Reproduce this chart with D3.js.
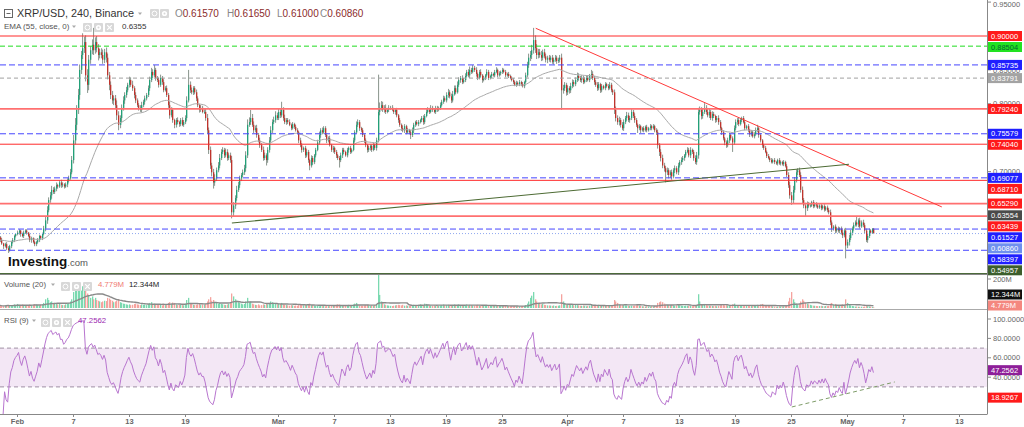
<!DOCTYPE html>
<html>
<head>
<meta charset="utf-8">
<script src="https://cdn.jsdelivr.net/npm/d3@7/dist/d3.min.js"></script>
<style>
html,body{margin:0;padding:0;background:#fff;}
svg{display:block;font-family:"Liberation Sans",Arial,sans-serif;}
</style>
</head>
<body>
<svg id="chart" width="1024" height="427"></svg>
<script>
// ================= DATA =================
const symbolTitle = "XRP/USD, 240, Binance";
const firstBarTime = "2022-01-30T04:00:00Z";
const barHours = 4;
const firstOpen = 0.603;
// 4h closes, one row per day
const closes = [
/*Jan30*/ .599,.594,.590,.593,.587,
/*Jan31*/ .584,.590,.596,.599,.605,.608,
/*Feb01*/ .610,.613,.608,.605,.610,.613,
/*Feb02*/ .610,.605,.599,.602,.596,.593,
/*Feb03*/ .596,.599,.605,.602,.608,.616,
/*Feb04*/ .628,.643,.658,.665,.673,.670,
/*Feb05*/ .675,.680,.678,.684,.680,.681,
/*Feb06*/ .678,.681,.687,.690,.699,.717,
/*Feb07*/ .746,.769,.791,.813,.850,.872,
/*Feb08*/ .882,.891,.842,.828,.865,.879,
/*Feb09*/ .887,.879,.891,.882,.872,.876,
/*Feb10*/ .872,.865,.876,.868,.842,.828,
/*Feb11*/ .813,.805,.808,.798,.783,.769,
/*Feb12*/ .779,.794,.805,.813,.820,.828,
/*Feb13*/ .835,.828,.823,.813,.805,.798,
/*Feb14*/ .794,.791,.798,.803,.808,.813,
/*Feb15*/ .823,.835,.847,.842,.850,.838,
/*Feb16*/ .835,.828,.838,.832,.820,.823,
/*Feb17*/ .813,.798,.783,.791,.776,.769,
/*Feb18*/ .776,.773,.770,.776,.769,.773,
/*Feb19*/ .779,.805,.828,.820,.817,.823,
/*Feb20*/ .817,.808,.798,.791,.794,.788,
/*Feb21*/ .788,.779,.761,.732,.709,.699,
/*Feb22*/ .684,.690,.702,.709,.720,.729,
/*Feb23*/ .732,.724,.729,.720,.724,.717,
/*Feb24*/ .640,.650,.661,.673,.680,.690,
/*Feb25*/ .695,.699,.705,.724,.769,.773,
/*Feb26*/ .779,.769,.761,.764,.754,.746,
/*Feb27*/ .739,.732,.720,.724,.717,.732,
/*Feb28*/ .746,.761,.773,.776,.783,.779,
/*Mar01*/ .788,.783,.791,.779,.773,.776,
/*Mar02*/ .773,.769,.764,.770,.766,.761,
/*Mar03*/ .758,.746,.739,.732,.735,.724,
/*Mar04*/ .729,.717,.709,.720,.714,.724,
/*Mar05*/ .732,.743,.754,.761,.758,.764,
/*Mar06*/ .754,.746,.749,.739,.732,.735,
/*Mar07*/ .729,.724,.720,.717,.724,.732,
/*Mar08*/ .729,.724,.732,.735,.729,.732,
/*Mar09*/ .746,.758,.769,.773,.764,.761,
/*Mar10*/ .754,.746,.739,.732,.735,.738,
/*Mar11*/ .732,.739,.735,.746,.788,.794,
/*Mar12*/ .798,.791,.794,.788,.791,.794,
/*Mar13*/ .794,.791,.788,.791,.783,.776,
/*Mar14*/ .769,.764,.761,.767,.758,.761,
/*Mar15*/ .758,.754,.761,.769,.773,.770,
/*Mar16*/ .773,.776,.779,.773,.782,.788,
/*Mar17*/ .791,.788,.794,.791,.788,.794,
/*Mar18*/ .791,.794,.798,.803,.808,.805,
/*Mar19*/ .813,.817,.811,.805,.814,.823,
/*Mar20*/ .817,.828,.835,.838,.832,.835,
/*Mar21*/ .841,.847,.842,.850,.847,.853,
/*Mar22*/ .850,.844,.838,.847,.842,.835,
/*Mar23*/ .838,.842,.847,.838,.841,.844,
/*Mar24*/ .842,.847,.850,.842,.845,.847,
/*Mar25*/ .850,.847,.842,.844,.841,.838,
/*Mar26*/ .835,.832,.828,.831,.829,.832,
/*Mar27*/ .829,.826,.832,.842,.857,.868,
/*Mar28*/ .872,.879,.894,.882,.872,.876,
/*Mar29*/ .872,.868,.876,.870,.865,.868,
/*Mar30*/ .865,.868,.862,.865,.868,.863,
/*Mar31*/ .865,.868,.820,.823,.828,.817,
/*Apr01*/ .823,.820,.826,.832,.829,.835,
/*Apr02*/ .841,.838,.835,.838,.832,.835,
/*Apr03*/ .838,.835,.841,.844,.838,.832,
/*Apr04*/ .828,.823,.829,.820,.826,.823,
/*Apr05*/ .829,.826,.823,.828,.820,.817,
/*Apr06*/ .791,.779,.773,.776,.769,.764,
/*Apr07*/ .773,.779,.783,.776,.779,.788,
/*Apr08*/ .782,.776,.769,.764,.767,.761,
/*Apr09*/ .764,.761,.766,.761,.764,.767,
/*Apr10*/ .764,.767,.761,.758,.739,.729,
/*Apr11*/ .720,.709,.705,.699,.702,.695,
/*Apr12*/ .699,.693,.702,.705,.699,.709,
/*Apr13*/ .714,.717,.720,.724,.729,.732,
/*Apr14*/ .724,.732,.729,.720,.714,.724,
/*Apr15*/ .788,.791,.782,.788,.794,.788,
/*Apr16*/ .783,.788,.779,.785,.782,.776,
/*Apr17*/ .779,.773,.764,.758,.749,.743,
/*Apr18*/ .739,.746,.754,.749,.743,.764,
/*Apr19*/ .773,.776,.770,.776,.779,.773,
/*Apr20*/ .764,.767,.761,.755,.758,.752,
/*Apr21*/ .755,.761,.764,.754,.746,.739,
/*Apr22*/ .735,.729,.723,.720,.717,.714,
/*Apr23*/ .717,.714,.712,.717,.712,.714,
/*Apr24*/ .711,.714,.708,.695,.680,.665,
/*Apr25*/ .658,.673,.687,.699,.702,.695,
/*Apr26*/ .673,.658,.650,.646,.653,.650,
/*Apr27*/ .650,.655,.649,.652,.650,.647,
/*Apr28*/ .650,.646,.649,.644,.647,.643,
/*Apr29*/ .640,.625,.616,.619,.613,.616,
/*Apr30*/ .613,.616,.610,.606,.613,.591,
/*May01*/ .596,.602,.610,.616,.621,.625,
/*May02*/ .622,.628,.619,.625,.621,.613,
/*May03*/ .599,.605,.613,.610,.6157,.6086
];
// upper wick beyond body, in 0.001 units
const wickUp = [
2,3,1,2,3,
3,2,2,3,2,1,
3,2,1,2,3,2,
2,1,3,2,1,2,
2,3,2,1,2,4,
5,6,4,5,6,4,
3,4,2,3,4,3,
2,3,3,4,5,6,
8,10,7,9,8,6,
22,8,10,9,7,6,
8,25,7,9,6,5,
6,8,5,7,6,5,
5,6,4,5,7,6,
4,5,6,4,5,3,
5,4,6,3,4,3,
3,4,5,3,4,3,
4,5,6,4,7,3,
3,4,5,3,4,3,
4,3,5,4,3,2,
3,4,2,3,4,3,
4,6,22,5,4,3,
3,4,3,2,4,3,
4,5,6,4,5,4,
5,6,4,5,6,4,
4,3,5,4,3,4,
6,5,4,6,5,4,
3,4,5,6,8,7,
12,6,5,4,5,3,
4,3,5,4,3,4,
5,6,4,5,6,4,
5,4,12,4,5,3,
3,4,2,3,2,3,
3,2,4,3,2,3,
4,3,2,4,3,2,
3,4,5,3,4,3,
3,2,3,4,2,3,
2,3,2,3,4,3,
3,2,3,2,3,2,
4,3,5,4,3,2,
3,2,3,2,3,2,
2,3,2,4,55,8,
6,5,4,5,3,4,
3,4,3,2,3,2,
3,2,4,3,2,3,
2,3,4,3,2,3,
3,2,3,4,3,4,
4,3,4,3,2,3,
3,2,4,3,4,3,
4,5,3,4,5,4,
4,5,4,3,4,3,
4,3,4,5,3,4,
3,4,2,3,4,2,
3,2,4,3,2,3,
2,3,4,2,3,2,
3,2,3,2,3,2,
2,3,2,3,2,3,
2,3,2,4,5,6,
6,8,18,7,6,5,
5,6,4,5,4,3,
4,3,4,3,4,3,
3,4,6,5,4,3,
4,3,5,4,3,4,
5,4,3,4,3,4,
3,4,3,6,4,3,
3,4,3,2,3,2,
3,2,3,4,3,2,
4,5,4,5,3,4,
4,3,5,4,3,4,
3,4,3,2,3,2,
2,3,2,3,2,3,
2,3,2,3,4,3,
4,5,4,3,4,3,
3,4,3,4,3,4,
3,4,3,2,3,4,
3,4,2,3,4,5,
6,5,4,5,7,4,
4,5,3,4,3,2,
3,4,3,2,3,2,
3,4,3,2,3,4,
4,3,4,3,2,3,
3,2,3,2,3,2,
3,4,5,2,3,2,
2,3,2,3,2,3,
2,3,2,2,3,2,
2,3,2,3,4,5,
5,6,5,4,3,4,
4,5,3,4,3,2,
3,2,3,2,3,2,
2,3,2,3,2,3,
3,4,3,2,3,2,
3,2,3,4,3,4,
4,5,4,3,4,3,
9,3,4,3,4,3,
3,4,3,2,1,1
];
// lower wick beyond body, in 0.001 units
const wickDown = [
3,2,4,2,3,
4,2,3,2,3,2,
2,3,4,2,3,2,
3,2,3,4,2,3,
3,2,3,2,3,2,
4,5,3,4,5,3,
3,4,3,2,4,3,
3,2,4,3,2,3,
5,6,8,6,7,6,
6,7,9,12,8,6,
6,7,5,6,8,5,
5,6,5,7,6,8,
6,5,7,6,7,8,
5,6,4,5,4,3,
4,3,4,5,4,3,
4,3,4,3,4,3,
3,4,3,4,3,4,
3,4,3,4,3,2,
3,4,5,3,4,5,
4,3,4,3,2,3,
3,4,3,4,3,4,
3,4,3,4,3,2,
3,4,5,6,5,6,
9,5,4,3,4,3,
3,4,3,4,3,4,
9,6,5,4,3,4,
4,3,4,5,4,3,
4,3,4,3,4,3,
4,3,4,3,8,4,
4,3,4,3,4,3,
3,4,3,4,3,4,
3,2,3,2,3,2,
3,4,3,4,3,4,
3,4,7,3,4,3,
3,2,3,4,3,2,
3,4,3,2,3,4,
3,4,3,11,3,4,
3,2,3,4,3,2,
2,3,2,3,4,3,
3,4,3,4,3,4,
3,2,3,4,3,5,
4,3,4,3,2,3,
3,2,3,4,3,4,
3,4,3,4,3,2,
3,6,3,4,3,2,
3,2,3,4,3,2,
2,3,2,3,2,3,
3,2,3,2,3,2,
3,4,3,4,3,2,
3,2,3,4,3,2,
3,2,3,4,3,2,
3,4,3,2,3,4,
2,3,2,3,2,3,
2,3,2,3,2,3,
3,2,3,2,3,2,
2,3,2,3,2,3,
3,2,3,2,3,4,
5,6,5,7,6,5,
4,5,4,3,4,5,
3,4,3,4,3,4,
3,4,29,5,4,5,
4,5,4,3,4,3,
3,4,3,4,3,2,
3,2,3,4,3,4,
3,4,3,4,3,2,
3,2,3,2,3,4,
6,5,4,5,4,3,
4,3,4,3,4,3,
3,4,3,7,3,4,
2,3,2,3,2,3,
3,2,3,4,5,6,
5,4,5,15,4,5,
4,5,3,4,3,4,
3,4,3,4,3,2,
3,4,3,4,3,4,
5,4,5,4,3,4,
3,4,3,4,3,4,
3,4,3,4,3,4,
4,3,4,3,14,3,
3,4,3,2,3,2,
3,2,3,4,3,2,
3,2,3,4,3,4,
3,2,3,2,3,2,
2,3,2,3,2,3,
2,3,2,3,4,5,
7,5,4,3,4,3,
4,5,4,13,4,3,
3,2,3,2,3,2,
2,3,2,3,2,3,
3,4,5,3,4,3,
3,4,3,4,3,19,
4,5,3,4,3,2,
3,4,3,2,3,4,
3,4,3,2,2,0
];
// volume, millions
const volumes = [
18,14,12,15,20,
22,16,14,18,25,20,
28,22,18,24,20,16,
18,20,24,18,22,26,
24,20,18,22,26,35,
60,70,55,40,45,30,
35,30,25,28,22,20,
20,25,30,35,45,60,
110,130,150,140,160,120,
150,120,140,100,90,70,
80,60,70,55,50,45,
40,45,50,48,70,65,
55,50,40,45,50,60,
40,35,30,28,25,22,
25,20,22,28,30,25,
22,20,25,22,24,20,
30,35,40,25,30,22,
20,25,22,18,28,20,
25,35,40,30,38,35,
25,20,22,25,20,18,
30,55,70,35,28,22,
20,22,25,28,20,24,
25,30,45,60,75,50,
55,40,35,30,35,28,
25,22,20,24,28,35,
100,80,60,50,40,35,
30,25,28,45,70,40,
45,30,25,22,20,25,
18,20,25,22,30,25,
35,45,40,30,28,25,
30,28,35,25,22,20,
18,16,20,18,15,17,
16,20,22,25,18,24,
22,28,30,20,18,16,
14,16,12,15,13,14,
12,14,13,16,18,15,
20,22,25,24,18,20,
18,16,20,22,18,15,
25,30,35,22,18,16,
15,18,20,22,18,16,
18,16,20,25,230,90,
45,35,25,20,18,16,
15,14,16,18,20,22,
20,18,22,16,18,15,
16,18,20,22,18,20,
22,25,20,18,30,28,
22,18,16,15,17,14,
15,16,18,20,24,18,
20,22,18,16,20,24,
18,22,25,20,16,15,
20,24,18,22,20,18,
16,20,22,18,16,15,
14,16,18,15,14,13,
15,14,13,16,14,12,
13,14,15,16,14,13,
12,11,13,12,10,11,
12,14,16,20,30,45,
70,85,110,60,45,35,
30,25,28,22,20,18,
18,16,15,17,14,15,
16,18,95,45,30,25,
28,22,20,25,18,22,
20,18,16,15,17,14,
12,14,16,25,15,14,
18,16,22,20,15,14,
14,13,15,16,18,20,
55,45,35,25,22,20,
20,18,16,15,14,16,
15,16,18,20,17,15,
12,11,10,12,11,10,
12,11,13,14,35,40,
45,40,30,25,22,20,
20,22,18,16,18,22,
18,16,15,14,16,15,
14,15,13,16,14,20,
95,45,25,20,28,22,
18,16,15,14,13,15,
12,15,18,20,22,18,
20,18,22,16,25,30,
18,16,15,14,16,13,
15,14,16,18,15,17,
16,20,22,18,24,28,
22,18,16,15,14,13,
11,10,9,10,11,9,
10,11,12,20,45,70,
110,60,40,30,25,28,
45,60,50,35,30,25,
22,18,16,15,14,13,
14,15,13,12,14,13,
15,30,35,25,28,22,
20,18,22,25,20,60,
35,25,18,14,12,10,
10,9,8,9,8,10,
14,12,10,8,7,4.779
];
const ohlcLast = [0.61570, 0.61650, 0.61000, 0.60860];
const emaPeriod = 55, emaLast = 0.6355;
const volMaPeriod = 20, volLast = 4.779, volMaLast = 12.344;
const rsiPeriod = 9, rsiLast = 47.2562, rsiMark = 18.9267;
// horizontal levels on the price pane
const levelValues = [0.90000,0.88504,0.85735,0.83791,0.79240,0.75579,0.74040,0.69077,0.68710,0.65290,0.63554,0.63439,0.61527,0.60860,0.58397,0.54957];
const levelKinds  = ["res","fib","sup","mid","resSoft","sup","res","sup","res","resSoft","ema","resSoft","sup","last","sup","base"];
const priceTicks = [0.95,0.90,0.85,0.80,0.75,0.70,0.65,0.60,0.55];
const volTicks = [200];
const rsiTicks = [100,80,60,40];
const rsiBand = [30,70];
const timeTicks = ["2022-02-01","2022-02-07","2022-02-13","2022-02-19","2022-03-01","2022-03-07","2022-03-13","2022-03-19","2022-03-25","2022-04-01","2022-04-07","2022-04-13","2022-04-19","2022-04-25","2022-05-01","2022-05-07","2022-05-13"];
const timeTickLabels = ["Feb","7","13","19","Mar","7","13","19","25","Apr","7","13","19","25","May","7","13"];
const downTrend = [["2022-03-28T15:00:00Z",0.9114],["2022-05-11T04:00:00Z",0.6479]];
const upTrend   = [["2022-02-24T01:00:00Z",0.6242],["2022-05-01T05:00:00Z",0.7109]];
const rsiTrend  = [["2022-04-25T02:00:00Z",9.3],["2022-05-06T03:00:00Z",35.1]];

// ================= LAYOUT =================
const plotR = 987;
const svg = d3.select("#chart");
const defs = svg.append("defs");
function clip(id,x,y,w,h){defs.append("clipPath").attr("id",id).append("rect").attr("x",x).attr("y",y).attr("width",w).attr("height",h);}
clip("cMain",0,0,plotR,274); clip("cVol",0,275,plotR,34); clip("cRsi",0,310,plotR,104);

const x = d3.scaleUtc().domain([new Date("2022-02-01T00:00:00Z"),new Date("2022-05-01T00:00:00Z")]).range([17,847]);
const y = d3.scaleLinear().domain([0.55,0.90]).range([273.3,36]);
const yv = d3.scaleLinear().domain([0,200]).range([308,279]);
const yr = d3.scaleLinear().domain([0,100]).range([416,319]);

const t0 = Date.parse(firstBarTime);
const bars = closes.map((c,i)=>{
  const o = i===0 ? firstOpen : closes[i-1];
  return {t:new Date(t0+i*barHours*3600e3), o, c,
    h:Math.max(o,c)+wickUp[i]/1000, l:Math.min(o,c)-wickDown[i]/1000, v:volumes[i]};
});

// indicators
const ema=[]; {const k=2/(emaPeriod+1); let e; closes.forEach((c,i)=>{e = i===0?c:c*k+e*(1-k); ema.push(e);});}
const volMa = volumes.map((v,i)=>d3.mean(volumes.slice(Math.max(0,i-volMaPeriod+1),i+1)));
const rsi=[null]; {let ag=0,al=0; for(let i=1;i<closes.length;i++){const ch=closes[i]-closes[i-1]; const g=Math.max(ch,0), l=Math.max(-ch,0);
  if(i<=rsiPeriod){ag=(ag*(i-1)+g)/i; al=(al*(i-1)+l)/i;} else {ag=(ag*(rsiPeriod-1)+g)/rsiPeriod; al=(al*(rsiPeriod-1)+l)/rsiPeriod;}
  rsi.push(al===0?100:100-100/(1+ag/al));}}

// ================= MAIN PANE =================
const main = svg.append("g").attr("clip-path","url(#cMain)");
const UP="#23a078", DN="#bf342d";
main.append("g").selectAll("line").data(bars).join("line")
  .attr("x1",d=>Math.round(x(d.t))+0.6).attr("x2",d=>Math.round(x(d.t))+0.6)
  .attr("y1",d=>y(d.h)).attr("y2",d=>y(d.l)).attr("stroke","#88948c").attr("stroke-width",1);
main.append("g").selectAll("rect").data(bars).join("rect")
  .attr("x",d=>Math.round(x(d.t))).attr("width",1.3)
  .attr("y",d=>y(Math.max(d.o,d.c))).attr("height",d=>Math.max(0.8,Math.abs(y(d.o)-y(d.c))))
  .attr("fill",d=>d.c>=d.o?UP:DN);

// EMA
main.append("path").datum(bars).attr("fill","none").attr("stroke","#a9a9a9").attr("stroke-width",1)
  .attr("d",d3.line().x(d=>x(d.t)).y((d,i)=>y(ema[i])));

// levels
const lineStyle = {
  res:{stroke:"#ff2b2b",w:1,dash:null},
  resSoft:{stroke:"#ff7070",w:1.7,dash:null},
  sup:{stroke:"#4646ff",w:1,dash:"6,3"},
  fib:{stroke:"#1fdc1f",w:1,dash:"5,3"},
  mid:{stroke:"#a0a0a0",w:1,dash:"4,3"},
  last:{stroke:"#8fa8ef",w:1,dash:"1,2"},
  base:{stroke:"#4c6a3a",w:1.2,dash:null}
};
levelValues.forEach((v,i)=>{
  const s=lineStyle[levelKinds[i]]; if(!s) return;
  main.append("line").attr("x1",0).attr("x2",plotR).attr("y1",y(v)).attr("y2",y(v))
    .attr("stroke",s.stroke).attr("stroke-width",s.w).attr("stroke-dasharray",s.dash);
});
// trend lines
main.append("line").attr("x1",x(new Date(downTrend[0][0]))).attr("y1",y(downTrend[0][1]))
  .attr("x2",x(new Date(downTrend[1][0]))).attr("y2",y(downTrend[1][1])).attr("stroke","#ff3a3a").attr("stroke-width",1);
main.append("line").attr("x1",x(new Date(upTrend[0][0]))).attr("y1",y(upTrend[0][1]))
  .attr("x2",x(new Date(upTrend[1][0]))).attr("y2",y(upTrend[1][1])).attr("stroke","#4d6b34").attr("stroke-width",1.1);

// watermark
const wm = svg.append("text").attr("x",8).attr("y",266);
wm.append("tspan").text("Investing").attr("font-size",13.5).attr("font-weight","bold").attr("fill","#111");
wm.append("tspan").text(".com").attr("font-size",9.5).attr("fill","#555");

// separators
svg.append("line").attr("x1",0).attr("x2",plotR).attr("y1",274.5).attr("y2",274.5).attr("stroke","#888");
svg.append("line").attr("x1",0).attr("x2",plotR).attr("y1",309.5).attr("y2",309.5).attr("stroke","#aaa");

// ================= VOLUME PANE =================
const vol = svg.append("g").attr("clip-path","url(#cVol)");
vol.append("g").selectAll("rect").data(bars).join("rect")
  .attr("x",d=>Math.round(x(d.t))).attr("width",1.3)
  .attr("y",d=>yv(d.v)).attr("height",d=>yv(0)-yv(d.v))
  .attr("fill",d=>d.c>=d.o?"#7ad9b0":"#f5a39e");
vol.append("path").datum(bars).attr("fill","none").attr("stroke","#8a8a8a").attr("stroke-width",1.4)
  .attr("d",d3.line().x(d=>x(d.t)).y((d,i)=>yv(volMa[i])));

// ================= RSI PANE =================
const rg = svg.append("g").attr("clip-path","url(#cRsi)");
rg.append("rect").attr("x",0).attr("width",plotR).attr("y",yr(rsiBand[1])).attr("height",yr(rsiBand[0])-yr(rsiBand[1])).attr("fill","#f3e7f5");
rsiBand.forEach(v=>rg.append("line").attr("x1",0).attr("x2",plotR).attr("y1",yr(v)).attr("y2",yr(v)).attr("stroke","#9e90a3").attr("stroke-dasharray","4,3"));
rg.append("path").datum(bars.slice(1)).attr("fill","none").attr("stroke","#b875cf").attr("stroke-width",1)
  .attr("d",d3.line().x(d=>x(d.t)).y((d,i)=>yr(rsi[i+1])));
rg.append("line").attr("x1",x(new Date(rsiTrend[0][0]))).attr("y1",yr(rsiTrend[0][1]))
  .attr("x2",x(new Date(rsiTrend[1][0]))).attr("y2",yr(rsiTrend[1][1])).attr("stroke","#7f9d6a").attr("stroke-dasharray","4,3");

// ================= AXES =================
svg.append("line").attr("x1",plotR+0.5).attr("x2",plotR+0.5).attr("y1",0).attr("y2",414).attr("stroke","#888");
svg.append("line").attr("x1",0).attr("x2",plotR+0.5).attr("y1",414.5).attr("y2",414.5).attr("stroke","#888");
const tg = svg.append("g");
timeTicks.forEach((d,i)=>{
  const xx = Math.round(x(new Date(d+"T00:00:00Z")))+0.5;
  tg.append("line").attr("x1",xx).attr("x2",xx).attr("y1",414).attr("y2",417).attr("stroke","#888");
  tg.append("text").attr("x",xx).attr("y",424).attr("text-anchor","middle").attr("font-size",7.5).attr("font-weight","bold").attr("fill","#666").text(timeTickLabels[i]);
});

// price tags (stacked, clamped inside the pane)
const items = levelValues.map((v,i)=>({v,k:levelKinds[i]})).sort((a,b)=>b.v-a.v);
let prevY=-1e9;
items.forEach(d=>{let yy=Math.min(y(d.v),268.5); if(yy<prevY+11) yy=prevY+11; d.ly=yy; prevY=yy;});

function axisText(yy,txt,minY){
  svg.append("line").attr("x1",plotR).attr("x2",plotR+4).attr("y1",yy).attr("y2",yy).attr("stroke","#888");
  svg.append("text").attr("x",993).attr("y",Math.max(yy+2.6,minY||0)).attr("font-size",7.5).attr("fill","#666").text(txt);
}
// price axis labels: those entirely hidden under a tag are not drawn
priceTicks.forEach(v=>{
  const yy=y(v);
  const hidden = items.some(d=>Math.abs(d.ly-yy)<4.5);
  if(!hidden) axisText(yy,d3.format(".5f")(v),6.5);
});
volTicks.forEach(v=>axisText(yv(v),v+"M"));
rsiTicks.forEach(v=>axisText(yr(v),d3.format(".4f")(v)));

const labelStyle = {
  res:["#ff1a1a","#fff"], resSoft:["#ff1a1a","#fff"], sup:["#1f1fff","#fff"], fib:["#22e222","#063"],
  mid:["#a3a3a3","#fff"], ema:["#4a4a4a","#fff"], last:["#6f90ee","#fff"], base:["#3c5e2c","#fff"]
};
function tag(yy,txt,bg,fg){
  svg.append("rect").attr("x",988).attr("y",yy-5).attr("width",34).attr("height",10).attr("fill",bg);
  svg.append("text").attr("x",991).attr("y",yy+2.7).attr("font-size",7.5).attr("fill",fg).text(txt);
}
items.forEach(d=>{const s=labelStyle[d.k]; tag(d.ly,d3.format(".5f")(d.v),s[0],s[1]);});
// volume tags
{let y1=Math.min(yv(volLast),305.5), y2=Math.min(yv(volMaLast), y1-11);
 tag(y2,d3.format(".3f")(volMaLast)+"M","#111","#fff");
 tag(y1,d3.format(".3f")(volLast)+"M","#f4877f","#fff");}
// rsi tags
tag(yr(rsiLast),d3.format(".4f")(rsiLast),"#8e1f99","#fff");
tag(yr(rsiMark),d3.format(".4f")(rsiMark),"#ff1a1a","#fff");

// ================= HEADERS =================
function icon(xx,yy,type){
  const g=svg.append("g").attr("transform",`translate(${xx},${yy})`);
  g.append("rect").attr("width",9).attr("height",9).attr("rx",1).attr("fill","#d8d8d8");
  if(type==="eye"){g.append("circle").attr("cx",4.5).attr("cy",4.5).attr("r",2.4).attr("fill","none").attr("stroke","#fff").attr("stroke-width",1);}
  else if(type==="gear"){g.append("circle").attr("cx",4.5).attr("cy",4.5).attr("r",2.6).attr("fill","#fff");g.append("circle").attr("cx",4.5).attr("cy",4.5).attr("r",1).attr("fill","#d8d8d8");}
  else {g.append("path").attr("d","M2.2,2.2L6.8,6.8M6.8,2.2L2.2,6.8").attr("stroke","#fff").attr("stroke-width",1.2);}
}
function caret(xx,yy){svg.append("path").attr("d",`M${xx},${yy}l4,0l-2,2.5z`).attr("fill","#aaa");}
// title row
svg.append("rect").attr("x",4.5).attr("y",9.5).attr("width",8).attr("height",8).attr("fill","none").attr("stroke","#666");
svg.append("line").attr("x1",6.5).attr("x2",10.5).attr("y1",13.5).attr("y2",13.5).attr("stroke","#666");
svg.append("text").attr("x",17).attr("y",17).attr("font-size",10.8).attr("fill","#333").text(symbolTitle);
caret(138,12.5); icon(150,9,"eye"); icon(160,9,"gear");
const ohlcNames=["O","H","L","C"], ohlcX=[175,227,277,320];
ohlcLast.forEach((v,i)=>{
  const t=svg.append("text").attr("x",ohlcX[i]).attr("y",17).attr("font-size",10);
  t.append("tspan").attr("fill","#888").text(ohlcNames[i]);
  t.append("tspan").attr("fill","#8b2b2b").text(d3.format(".5f")(v));
});
// EMA row
svg.append("text").attr("x",4).attr("y",29).attr("font-size",8).attr("fill","#555").text(`EMA (${emaPeriod}, close, 0)`);
caret(72,25.5); icon(83,23,"eye"); icon(94,23,"gear"); icon(105,23,"x");
svg.append("text").attr("x",122).attr("y",29).attr("font-size",8).attr("fill","#333").text(d3.format(".4f")(emaLast));
// Volume row
svg.append("text").attr("x",4).attr("y",287).attr("font-size",7.8).attr("fill","#555").text(`Volume (${volMaPeriod})`);
caret(51,283.5); icon(61,282,"eye"); icon(72,282,"gear"); icon(83,282,"x");
svg.append("text").attr("x",98).attr("y",287).attr("font-size",7.8).attr("fill","#f07a72").text(d3.format(".3f")(volLast)+"M");
svg.append("text").attr("x",129).attr("y",287).attr("font-size",7.8).attr("fill","#222").text(d3.format(".3f")(volMaLast)+"M");
// RSI row
svg.append("text").attr("x",4).attr("y",323).attr("font-size",7.8).attr("fill","#555").text(`RSI (${rsiPeriod})`);
caret(32,319.5); icon(41,318,"eye"); icon(52,318,"gear"); icon(63,318,"x");
svg.append("text").attr("x",78).attr("y",323).attr("font-size",7.8).attr("fill","#9c27b0").text(d3.format(".4f")(rsiLast));
</script>
</body>
</html>
